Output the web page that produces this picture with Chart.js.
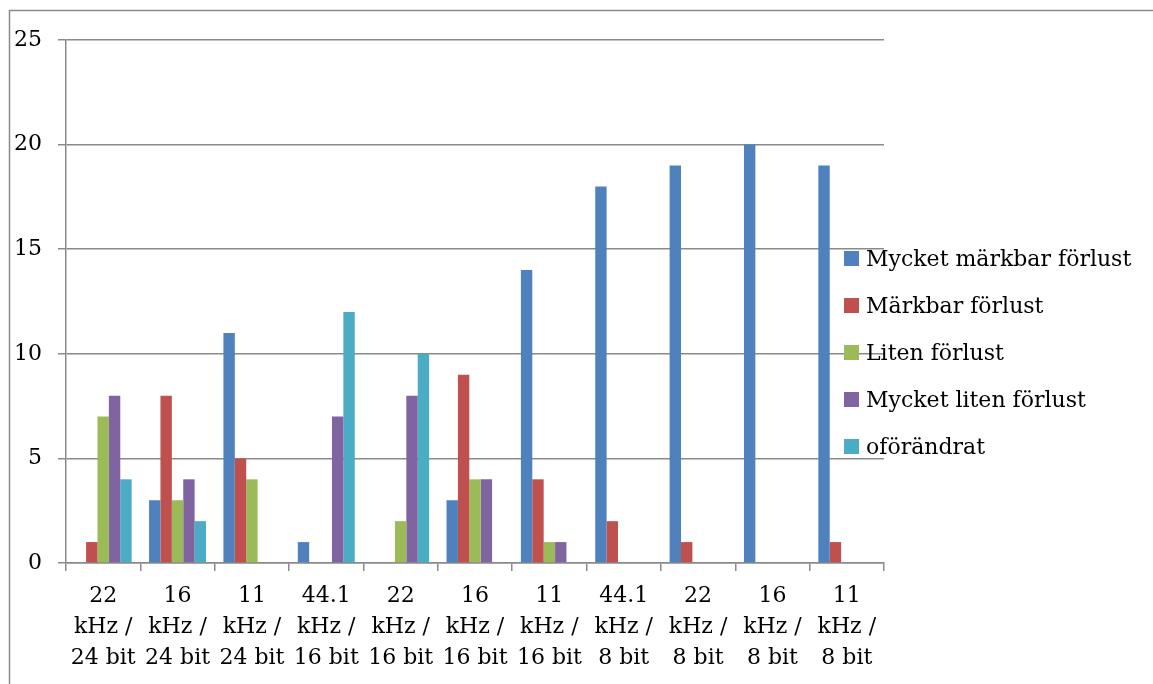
<!DOCTYPE html>
<html>
<head>
<meta charset="utf-8">
<script src="https://cdn.jsdelivr.net/npm/chart.js@4/dist/chart.umd.min.js"></script>
<style>
  html, body { margin: 0; padding: 0; background: #ffffff; }
  #wrap { position: relative; width: 1153px; height: 684px; }
</style>
</head>
<body>
<div id="wrap"><canvas id="c" width="1153" height="684"></canvas></div>
<script>
// Categories: sample rate / bit depth
const categories = [
  ['22', 'kHz /', '24 bit'],
  ['16', 'kHz /', '24 bit'],
  ['11', 'kHz /', '24 bit'],
  ['44.1', 'kHz /', '16 bit'],
  ['22', 'kHz /', '16 bit'],
  ['16', 'kHz /', '16 bit'],
  ['11', 'kHz /', '16 bit'],
  ['44.1', 'kHz /', '8 bit'],
  ['22', 'kHz /', '8 bit'],
  ['16', 'kHz /', '8 bit'],
  ['11', 'kHz /', '8 bit']
];

const seriesNames = [
  'Mycket märkbar förlust',
  'Märkbar förlust',
  'Liten förlust',
  'Mycket liten förlust',
  'oförändrat'
];

// Number of answers per rating
const mycketMarkbar = [0, 3, 11, 1, 0, 3, 14, 18, 19, 20, 19];
const markbar       = [1, 8, 5, 0, 0, 9, 4, 2, 1, 0, 1];
const liten         = [7, 3, 4, 0, 2, 4, 1, 0, 0, 0, 0];
const mycketLiten   = [8, 4, 0, 7, 8, 4, 1, 0, 0, 0, 0];
const oforandrat    = [4, 2, 0, 12, 10, 0, 0, 0, 0, 0, 0];

const yTicks = [0, 5, 10, 15, 20, 25];

const colors = ['#4F81BD', '#C0504D', '#9BBB59', '#8064A2', '#4BACC6'];
const seriesValues = [mycketMarkbar, markbar, liten, mycketLiten, oforandrat];

const FONT = 'DejaVu Serif';
const GRID = '#8a8a8a';

// Outer chart frame
const framePlugin = {
  id: 'frame',
  beforeDraw(chart) {
    const ctx = chart.ctx;
    ctx.save();
    ctx.strokeStyle = GRID;
    ctx.lineWidth = 1.5;
    ctx.beginPath();
    ctx.moveTo(9.5, chart.height + 5);
    ctx.lineTo(9.5, 10.5);
    ctx.lineTo(chart.width + 5, 10.5);
    ctx.stroke();
    ctx.restore();
  }
};

// Legend drawn on top of the plot's right edge
const sideLegend = {
  id: 'sideLegend',
  afterDraw(chart) {
    const ctx = chart.ctx;
    ctx.save();
    ctx.font = '22px "' + FONT + '"';
    ctx.textBaseline = 'alphabetic';
    ctx.textAlign = 'left';
    chart.data.datasets.forEach((ds, i) => {
      const cy = 258 + i * 47;
      ctx.fillStyle = ds.backgroundColor;
      ctx.fillRect(844, cy - 7, 15, 15);
      ctx.fillStyle = '#000000';
      ctx.fillText(ds.label, 866, cy + 8);
    });
    ctx.restore();
  }
};

new Chart(document.getElementById('c'), {
  type: 'bar',
  data: {
    labels: categories,
    datasets: seriesNames.map((name, i) => ({
      label: name,
      data: seriesValues[i],
      backgroundColor: colors[i],
      borderWidth: 0,
      categoryPercentage: 0.766,
      barPercentage: 1.0
    }))
  },
  options: {
    responsive: false,
    animation: false,
    layout: { padding: { left: 0, top: 40, right: 269, bottom: 0 } },
    plugins: {
      legend: { display: false },
      tooltip: { enabled: false }
    },
    scales: {
      x: {
        afterFit(scale) { scale.height = 121; },
        border: { display: true, color: GRID, width: 1.5 },
        grid: {
          display: true,
          offset: true,
          drawOnChartArea: false,
          drawTicks: true,
          tickLength: 8,
          color: GRID,
          lineWidth: 1.5
        },
        ticks: {
          color: '#000000',
          maxRotation: 0,
          autoSkip: false,
          padding: 10,
          font: { family: FONT, size: 22, lineHeight: 1.4 }
        }
      },
      y: {
        min: 0,
        max: 25,
        afterFit(scale) { scale.width = 66; },
        afterBuildTicks(scale) { scale.ticks = yTicks.map(v => ({ value: v })); },
        border: { display: true, color: GRID, width: 1.5 },
        grid: {
          color: GRID,
          lineWidth: 1.5,
          drawTicks: true,
          tickLength: 8
        },
        ticks: {
          color: '#000000',
          padding: 16,
          font: { family: FONT, size: 22 }
        }
      }
    }
  },
  plugins: [framePlugin, sideLegend]
});
</script>
</body>
</html>
